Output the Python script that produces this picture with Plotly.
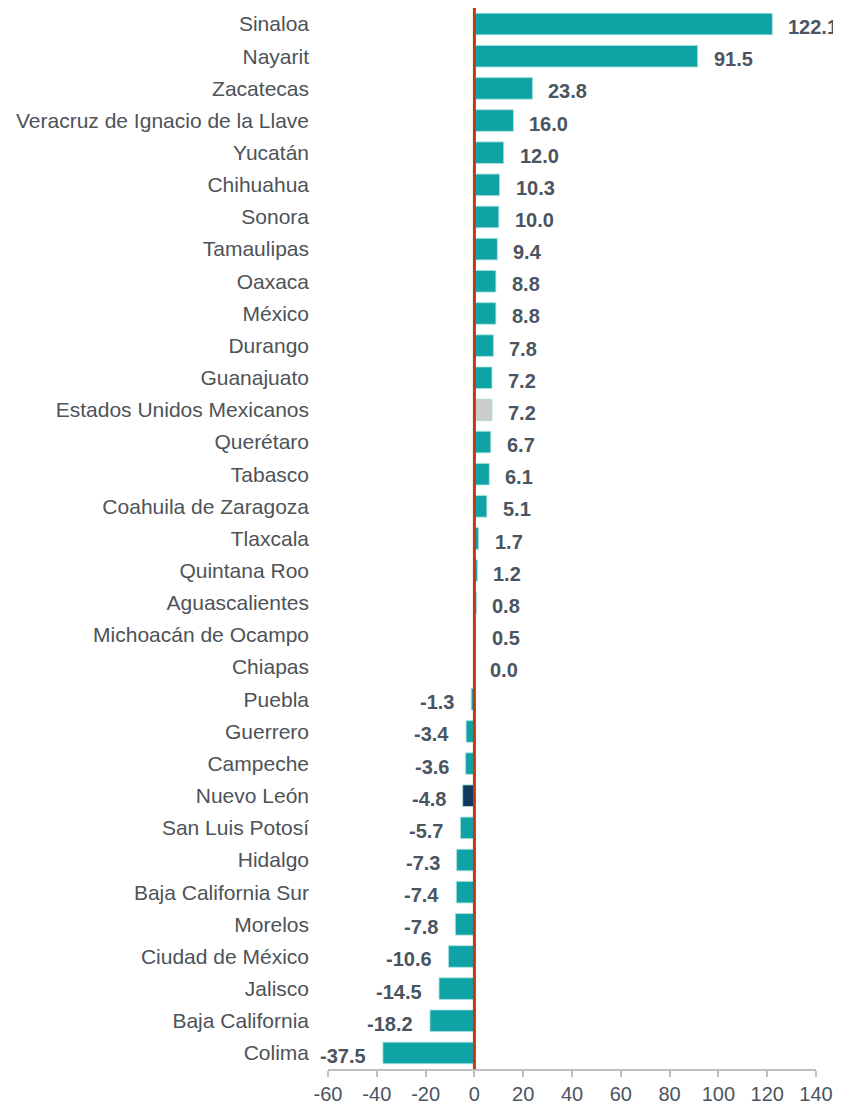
import plotly.graph_objects as go

states = ["Sinaloa", "Nayarit", "Zacatecas", "Veracruz de Ignacio de la Llave", "Yucatán",
          "Chihuahua", "Sonora", "Tamaulipas", "Oaxaca", "México", "Durango", "Guanajuato",
          "Estados Unidos Mexicanos", "Querétaro", "Tabasco", "Coahuila de Zaragoza",
          "Tlaxcala", "Quintana Roo", "Aguascalientes", "Michoacán de Ocampo", "Chiapas",
          "Puebla", "Guerrero", "Campeche", "Nuevo León", "San Luis Potosí", "Hidalgo",
          "Baja California Sur", "Morelos", "Ciudad de México", "Jalisco", "Baja California", "Colima"]
values = [122.1, 91.5, 23.8, 16.0, 12.0, 10.3, 10.0, 9.4, 8.8, 8.8, 7.8, 7.2,
          7.2, 6.7, 6.1, 5.1, 1.7, 1.2, 0.8, 0.5, 0.0,
          -1.3, -3.4, -3.6, -4.8, -5.7, -7.3, -7.4, -7.8, -10.6, -14.5, -18.2, -37.5]
x_ticks = [-60, -40, -20, 0, 20, 40, 60, 80, 100, 120, 140]

TEAL = "#10A3A5"
colors = []
for s in states:
    if s == "Estados Unidos Mexicanos":
        colors.append("#CCCCCC")
    elif s == "Nuevo León":
        colors.append("#0E3A60")
    else:
        colors.append(TEAL)

fig = go.Figure()
fig.add_trace(go.Bar(
    x=values, y=states, orientation="h",
    marker=dict(color=colors, line=dict(color="rgba(170,225,225,0.8)", width=1)),
    width=0.67, hoverinfo="x+y",
))

for s, v in zip(states, values):
    fig.add_annotation(
        x=v, y=s, xref="x", yref="y",
        text=f"<b>{v:.1f}</b>", showarrow=False,
        xanchor="left" if v >= 0 else "right",
        xshift=14 if v >= 0 else -15, yshift=-3,
        font=dict(family="Liberation Sans, Arial", size=20, color="#4A5561"),
    )

fig.add_shape(type="line", xref="x", yref="paper", x0=0, x1=0, y0=0, y1=1.0,
              line=dict(color="#C23A12", width=3), layer="above")

fig.update_layout(
    width=833, height=1096,
    margin=dict(l=320, r=25, t=0, b=35),
    paper_bgcolor="white", plot_bgcolor="white",
    showlegend=False,
    bargap=0.33,
    font=dict(family="Liberation Sans, Arial", size=21, color="#4D5358"),
)
fig.update_xaxes(
    range=[-60, 140], tickvals=x_ticks, ticktext=[str(t) for t in x_ticks],
    showgrid=False, zeroline=False,
    showline=True, linecolor="#BFBFBF", linewidth=1.5,
    ticks="outside", ticklen=6, tickcolor="#BFBFBF", tickwidth=1.5,
    tickfont=dict(size=20, color="#4A5561"),
)
fig.update_yaxes(
    autorange="reversed", showgrid=False, zeroline=False, showline=False,
    ticks="", ticklabelstandoff=18,
    tickfont=dict(size=21, color="#4D5358"),
)

fig.write_html("out.html")
